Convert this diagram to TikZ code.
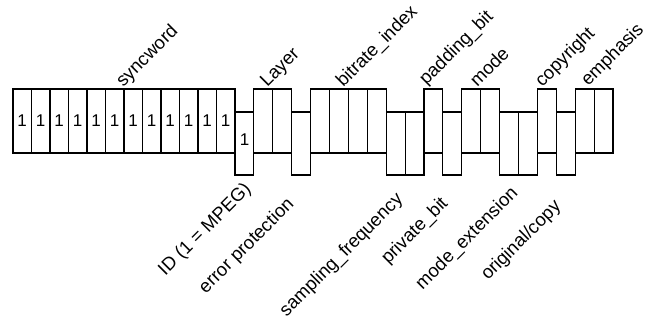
\documentclass[tikz,border=0pt]{standalone}
\usepackage{fontspec}
\setmainfont{Liberation Sans}
\tikzset{
  upname/.style={rotate=45,anchor=base west,inner sep=0pt,font=\fontsize{18.5}{20}\selectfont},
  downname/.style={rotate=45,anchor=base east,inner sep=0pt,font=\fontsize{18.5}{20}\selectfont},
  bitval/.style={inner sep=0pt,font=\fontsize{17}{18}\selectfont}
}
\begin{document}
\begin{tikzpicture}[x=1pt,y=1pt,line width=1.1pt]
  \useasboundingbox (0,0) rectangle (653,322);
  % syncword: twelve ones, upper row
  \foreach \i in {0,...,11} {
    \draw (13+\i*18.5,169) rectangle ++(18.5,64);
    \node[bitval] (sync\i) at (13+\i*18.5+9.2,201) {1};
  }
  % the other 20 header bits: 1 = upper row, 0 = lower row
  \foreach \b [count=\i from 0] in {0,1,1,0,1,1,1,1,0,0,1,0,1,1,0,0,1,0,1,1} {
    \ifnum\b=1
      \draw (235+\i*18.9,169) rectangle ++(18.9,64);
    \else
      \draw (235+\i*18.9,147) rectangle ++(18.9,63);
    \fi
  }
  \node[bitval] (idbit) at (244.5,182) {1};
  % field names above
  \node[upname] (syncword) at (123,234) {syncword};
  \node[upname] (layer) at (267,234) {Layer};
  \node[upname] (bitrate) at (343,234) {bitrate\_index};
  \node[upname] (padding) at (426,236) {padding\_bit};
  \node[upname] (mode) at (477,234) {mode};
  \node[upname] (copyright) at (542,234) {copyright};
  \node[upname] (emphasis) at (588,235) {emphasis};
  % field names below
  \node[downname] (id) at (252,132) {ID (1 = MPEG)};
  \node[downname] (errprot) at (295,117) {error protection};
  \node[downname] (sampling) at (404,122) {sampling\_frequency};
  \node[downname] (private) at (449,118) {private\_bit};
  \node[downname] (modeext) at (519,128) {mode\_extension};
  \node[downname] (original) at (562,115) {original/copy};
\end{tikzpicture}
\end{document}
